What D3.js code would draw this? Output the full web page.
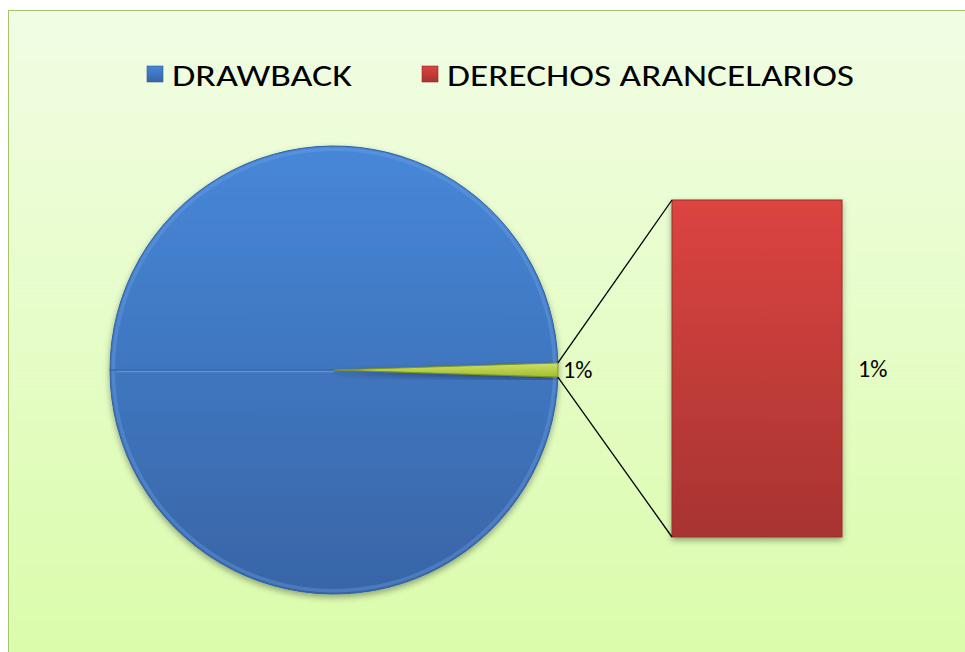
<!DOCTYPE html>
<html>
<head>
<meta charset="utf-8">
<script src="https://cdn.jsdelivr.net/npm/d3@7"></script>
<style>
  html, body { margin: 0; padding: 0; background: #ffffff; }
  svg { display: block; }
</style>
</head>
<body>
<div id="chart"></div>
<script>
// data
const categories = ["DRAWBACK", "DERECHOS ARANCELARIOS"];
const pieValues = [99, 1];          // pie: DRAWBACK vs. "other" (split into the bar)
const barValues = [1];              // bar: DERECHOS ARANCELARIOS
const pieLabels = ["", "1%"];
const barLabels = ["1%"];

const width = 965;
const height = 652;

const svg = d3.select("#chart")
    .append("svg")
    .attr("width", width)
    .attr("height", height)
    .style("font-family", "Carlito, Lato, 'Open Sans', sans-serif");

const defs = svg.append("defs");

const bg = defs.append("linearGradient").attr("id", "bg").attr("x1", 0).attr("y1", 0).attr("x2", 0).attr("y2", 1);
bg.append("stop").attr("offset", "0%").attr("stop-color", "#f1fde4");
bg.append("stop").attr("offset", "100%").attr("stop-color", "#dafcaa");

const blue = defs.append("linearGradient").attr("id", "blue").attr("x1", 0).attr("y1", 0).attr("x2", 0).attr("y2", 1);
blue.append("stop").attr("offset", "0%").attr("stop-color", "#4787d8");
blue.append("stop").attr("offset", "100%").attr("stop-color", "#3865a6");

const red = defs.append("linearGradient").attr("id", "red").attr("x1", 0).attr("y1", 0).attr("x2", 0).attr("y2", 1);
red.append("stop").attr("offset", "0%").attr("stop-color", "#dc4441");
red.append("stop").attr("offset", "100%").attr("stop-color", "#a73431");

const green = defs.append("linearGradient").attr("id", "green").attr("x1", 0).attr("y1", 0).attr("x2", 0).attr("y2", 1);
green.append("stop").attr("offset", "0%").attr("stop-color", "#cde06a");
green.append("stop").attr("offset", "100%").attr("stop-color", "#a3bd2c");

const shadow = defs.append("filter").attr("id", "shadow").attr("x", "-20%").attr("y", "-20%").attr("width", "140%").attr("height", "140%");
shadow.append("feDropShadow").attr("dx", 0).attr("dy", 3).attr("stdDeviation", 3)
    .attr("flood-color", "#000").attr("flood-opacity", 0.35);

// chart area
svg.append("rect")
    .attr("x", 8.5).attr("y", 10.5)
    .attr("width", width).attr("height", height)
    .attr("fill", "url(#bg)")
    .attr("stroke", "#a4c36a")
    .attr("stroke-width", 1);

// legend
const legendColors = ["url(#blue)", "url(#red)"];
const legendX = [147, 422];
const legendTextW = [180, 407];
const legend = svg.append("g");
categories.forEach((c, i) => {
    legend.append("rect")
        .attr("x", legendX[i]).attr("y", 66)
        .attr("width", 16).attr("height", 16)
        .attr("fill", legendColors[i])
        .attr("stroke", i === 0 ? "#2f5a94" : "#8e2b28")
        .attr("stroke-width", 0.6);
    legend.append("text")
        .attr("x", legendX[i] + 25).attr("y", 86)
        .attr("textLength", legendTextW[i])
        .attr("lengthAdjust", "spacingAndGlyphs")
        .style("font-size", "31px")
        .style("fill", "#000")
        .text(c);
});

// pie
const cx = 334, cy = 370, r = 224;
const half = (pieValues[1] / d3.sum(pieValues)) * Math.PI;
const pie = d3.pie().sort(null)
    .startAngle(Math.PI / 2 + half)
    .endAngle(Math.PI / 2 + half + 2 * Math.PI);
const arcs = pie(pieValues);
const arc = d3.arc().innerRadius(0).outerRadius(r);

const pieG = svg.append("g").attr("transform", `translate(${cx},${cy})`);
pieG.selectAll("path.slice")
    .data(arcs)
    .join("path")
    .attr("class", "slice")
    .attr("d", arc)
    .attr("fill", (d, i) => i === 0 ? "url(#blue)" : "url(#green)")
    .attr("stroke", (d, i) => i === 0 ? "#31609f" : "#7f9622")
    .attr("stroke-width", 1)
    .attr("filter", "url(#shadow)");

// bevel highlight on rim
pieG.append("path")
    .attr("d", d3.arc().innerRadius(r - 5).outerRadius(r - 1.5)({ startAngle: arcs[0].startAngle, endAngle: arcs[0].endAngle }))
    .attr("fill", "#6fa3e6")
    .attr("opacity", 0.35);

// seam across the DRAWBACK slice
const seamAngle = (arcs[0].startAngle + arcs[0].endAngle) / 2;
pieG.append("line")
    .attr("x1", 0).attr("y1", 0)
    .attr("x2", r * Math.sin(seamAngle)).attr("y2", -r * Math.cos(seamAngle))
    .attr("stroke", "#2f5c98").attr("stroke-width", 1.2);
pieG.append("line")
    .attr("x1", 0).attr("y1", 1.5)
    .attr("x2", r * Math.sin(seamAngle) + 6).attr("y2", -r * Math.cos(seamAngle) + 1.5)
    .attr("stroke", "#6fa3e6").attr("stroke-width", 1.5).attr("opacity", 0.6);

// pie labels
const pieLabelArc = d3.arc().innerRadius(r + 20).outerRadius(r + 20);
pieG.selectAll("text.pl")
    .data(arcs.filter((d, i) => pieLabels[i]))
    .join("text")
    .attr("class", "pl")
    .attr("x", d => pieLabelArc.centroid(d)[0] - 15)
    .attr("y", d => pieLabelArc.centroid(d)[1] + 8)
    .style("font-size", "24px")
    .style("fill", "#000")
    .text((d) => pieLabels[arcs.indexOf(d)]);

// bar of pie
const barX = d3.scaleBand().domain(["other"]).range([672, 842]).padding(0);
const barY = d3.scaleLinear().domain([0, d3.sum(barValues)]).range([537, 200]);

let acc = 0;
const stacked = barValues.map(v => { const s = { y0: acc, y1: acc + v }; acc += v; return s; });

svg.append("g").selectAll("rect")
    .data(stacked)
    .join("rect")
    .attr("x", barX("other"))
    .attr("y", d => barY(d.y1))
    .attr("width", barX.bandwidth())
    .attr("height", d => barY(d.y0) - barY(d.y1))
    .attr("fill", "url(#red)")
    .attr("stroke", "#9a2f2c")
    .attr("stroke-width", 1)
    .attr("filter", "url(#shadow)");

svg.append("g").selectAll("text")
    .data(stacked)
    .join("text")
    .attr("x", barX("other") + barX.bandwidth() + 16)
    .attr("y", d => (barY(d.y0) + barY(d.y1)) / 2 + 8)
    .style("font-size", "24px")
    .style("fill", "#000")
    .text((d, i) => barLabels[i]);

// connector lines
const other = arcs[1];
const p1 = [cx + r * Math.sin(other.startAngle), cy - r * Math.cos(other.startAngle)];
const p2 = [cx + r * Math.sin(other.endAngle), cy - r * Math.cos(other.endAngle)];
svg.append("line")
    .attr("x1", p1[0]).attr("y1", p1[1])
    .attr("x2", barX("other")).attr("y2", barY(d3.sum(barValues)))
    .attr("stroke", "#000").attr("stroke-width", 1.3);
svg.append("line")
    .attr("x1", p2[0]).attr("y1", p2[1])
    .attr("x2", barX("other")).attr("y2", barY(0))
    .attr("stroke", "#000").attr("stroke-width", 1.3);
</script>
</body>
</html>
